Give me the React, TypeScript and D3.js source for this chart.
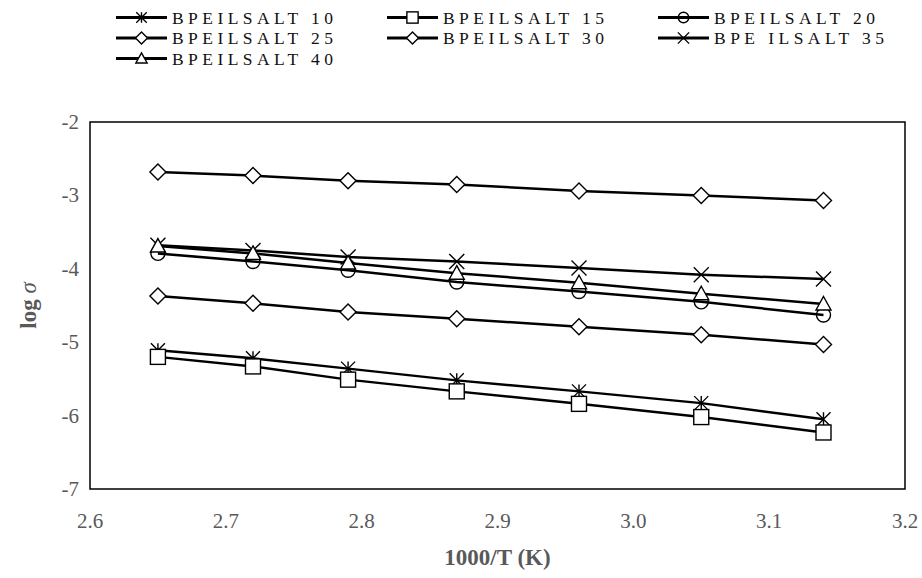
import React from "react";
import * as d3 from "d3";

const xValues = [2.65, 2.72, 2.79, 2.87, 2.96, 3.05, 3.14];
const s10 = [-5.11, -5.22, -5.36, -5.52, -5.67, -5.83, -6.05];
const s15 = [-5.2, -5.33, -5.51, -5.67, -5.84, -6.02, -6.23];
const s20 = [-3.79, -3.9, -4.02, -4.18, -4.31, -4.45, -4.63];
const s25 = [-4.37, -4.47, -4.59, -4.68, -4.79, -4.9, -5.03];
const s30 = [-2.68, -2.73, -2.8, -2.85, -2.94, -3.0, -3.07];
const s35 = [-3.68, -3.75, -3.84, -3.9, -3.99, -4.08, -4.14];
const s40 = [-3.69, -3.79, -3.92, -4.06, -4.19, -4.34, -4.48];

const seriesNames = [
  "BPEILSALT 10",
  "BPEILSALT 15",
  "BPEILSALT 20",
  "BPEILSALT 25",
  "BPEILSALT 30",
  "BPE ILSALT 35",
  "BPEILSALT 40",
];
const seriesValues = [s10, s15, s20, s25, s30, s35, s40];
const seriesMarkers = ["star", "square", "circle", "diamond", "diamond", "x", "triangle"];

const xTicks = [2.6, 2.7, 2.8, 2.9, 3.0, 3.1, 3.2];
const yTicks = [-2, -3, -4, -5, -6, -7];

const W = 922;
const H = 578;
const left = 90;
const right = 905;
const top = 122;
const bottom = 489;

function Marker({ type, x, y, k = 1 }: { type: string; x: number; y: number; k?: number }) {
  const sw = 1.4;
  if (type === "square") {
    const s = 7.5 * k;
    return <rect x={x - s} y={y - s} width={2 * s} height={2 * s} fill="#fff" stroke="#000" strokeWidth={sw} />;
  }
  if (type === "circle") {
    return <circle cx={x} cy={y} r={7 * k} fill="none" stroke="#000" strokeWidth={sw} />;
  }
  if (type === "diamond") {
    const s = 8 * k;
    return (
      <path d={`M${x},${y - s}L${x + s},${y}L${x},${y + s}L${x - s},${y}Z`} fill="#fff" stroke="#000" strokeWidth={sw} />
    );
  }
  if (type === "triangle") {
    const s = 7.5 * k;
    return (
      <path d={`M${x},${y - s}L${x + s},${y + s * 0.8}L${x - s},${y + s * 0.8}Z`} fill="#fff" stroke="#000" strokeWidth={sw} />
    );
  }
  if (type === "x") {
    const s = 7.5 * k;
    return (
      <path d={`M${x - s},${y - s}L${x + s},${y + s}M${x + s},${y - s}L${x - s},${y + s}`} fill="none" stroke="#000" strokeWidth={sw} />
    );
  }
  const s = 7 * k;
  return (
    <path
      d={`M${x - s},${y - s}L${x + s},${y + s}M${x + s},${y - s}L${x - s},${y + s}M${x},${y - s}L${x},${y + s}`}
      fill="none"
      stroke="#000"
      strokeWidth={sw}
    />
  );
}

const legendCols = [116, 387, 658];
const legendRows = [17.5, 38, 58.5];

export default function App() {
  const xScale = d3.scaleLinear().domain([2.6, 3.2]).range([left, right]);
  const yScale = d3.scaleLinear().domain([-7, -2]).range([bottom, top]);
  const line = d3
    .line<number>()
    .x((_, i) => xScale(xValues[i]))
    .y((d) => yScale(d));

  return (
    <svg
      width={W}
      height={H}
      style={{ position: "absolute", left: 0, top: 0, background: "#fff" }}
      fontFamily="'Liberation Serif', 'Times New Roman', serif"
    >
      <rect x={0} y={0} width={W} height={H} fill="#fff" />
      <rect x={left} y={top} width={right - left} height={bottom - top} fill="none" stroke="#000" strokeWidth={1.5} />

      {xTicks.map((t) => (
        <text key={t} x={xScale(t)} y={528} textAnchor="middle" fontSize={21} fill="#595959">
          {t.toFixed(1)}
        </text>
      ))}
      {yTicks.map((t) => (
        <text key={t} x={79} y={yScale(t) + 7} textAnchor="end" fontSize={21} fill="#595959">
          {t}
        </text>
      ))}

      <text x={(left + right) / 2} y={565} textAnchor="middle" fontSize={23} fontWeight="bold" fill="#595959">
        1000/T (K)
      </text>
      <text
        transform={`translate(36,${(top + bottom) / 2}) rotate(-90)`}
        textAnchor="middle"
        fontSize={23}
        fontWeight="bold"
        fill="#595959"
      >
        log <tspan fontStyle="italic" fontWeight="normal">σ</tspan>
      </text>

      {seriesValues.map((vals, si) => (
        <g key={si}>
          <path d={line(vals) || ""} fill="none" stroke="#000" strokeWidth={2.5} />
          {vals.map((v, i) => (
            <Marker key={i} type={seriesMarkers[si]} x={xScale(xValues[i])} y={yScale(v)} />
          ))}
        </g>
      ))}

      {seriesNames.map((name, i) => {
        const col = i % 3;
        const row = Math.floor(i / 3);
        const lx = legendCols[col];
        const ly = legendRows[row];
        return (
          <g key={name}>
            <line x1={lx} x2={lx + 51} y1={ly} y2={ly} stroke="#000" strokeWidth={2.8} />
            <Marker type={seriesMarkers[i]} x={lx + 25.5} y={ly} k={0.75} />
            <text
              x={lx + 56}
              y={ly + 6}
              fontSize={17.5}
              fill="#111"
              textLength={i === 5 ? 170 : 161}
              lengthAdjust="spacing"
            >
              {name}
            </text>
          </g>
        );
      })}
    </svg>
  );
}
